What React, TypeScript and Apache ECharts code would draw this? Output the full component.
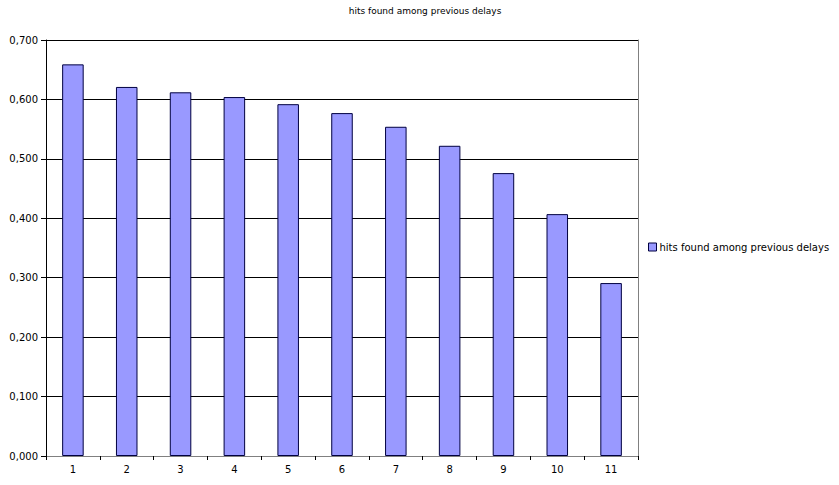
import React, { useEffect, useRef } from "react";
import * as echarts from "echarts";

const categories = ["1", "2", "3", "4", "5", "6", "7", "8", "9", "10", "11"];
const hitsValues = [0.659, 0.621, 0.612, 0.604, 0.592, 0.577, 0.554, 0.522, 0.476, 0.407, 0.291];
const seriesName = "hits found among previous delays";
const titleText = "hits found among previous delays";

export default function App() {
  const ref = useRef<HTMLDivElement>(null);
  useEffect(() => {
    const chart = echarts.init(ref.current!, null, { renderer: "svg" });
    const font = "Verdana, 'DejaVu Sans', sans-serif";
    chart.setOption({
      animation: false,
      backgroundColor: "#ffffff",
      title: {
        text: titleText,
        left: 420,
        textAlign: "center",
        top: 1,
        textStyle: { fontFamily: font, fontSize: 9, fontWeight: "normal", color: "#000" },
      },
      legend: {
        left: 643,
        top: 237,
        orient: "vertical",
        itemWidth: 8,
        itemHeight: 8,
        itemGap: 4,
        icon: "rect",
        textStyle: { fontFamily: font, fontSize: 10, color: "#000", padding: [0, 0, 0, -2] },
        data: [{ name: seriesName, itemStyle: { color: "#9999ff", borderColor: "#000040", borderWidth: 1 } }],
      },
      grid: { left: 46, right: 201, top: 40, bottom: 29 },
      xAxis: [
        {
          type: "category",
          data: categories,
          axisLine: { lineStyle: { color: "#000", width: 1 } },
          axisTick: { show: true, length: 4, inside: false, lineStyle: { color: "#000" } },
          axisLabel: { fontFamily: font, fontSize: 10, color: "#000", margin: 8 },
        },
        {
          type: "category",
          data: categories,
          position: "top",
          axisLine: { show: true, lineStyle: { color: "#808080", width: 1 } },
          axisTick: { show: false },
          axisLabel: { show: false },
        },
      ],
      yAxis: [
        {
          type: "value",
          min: 0,
          max: 0.7,
          interval: 0.1,
          axisLine: { show: true, lineStyle: { color: "#000", width: 1 } },
          axisTick: { show: true, length: 5, lineStyle: { color: "#000" } },
          splitLine: { show: true, lineStyle: { color: "#000", width: 1 } },
          axisLabel: {
            fontFamily: font,
            fontSize: 10,
            color: "#000",
            margin: 8,
            formatter: (v: number) => v.toFixed(3).replace(".", ","),
          },
        },
        {
          type: "value",
          min: 0,
          max: 0.7,
          interval: 0.1,
          position: "right",
          axisLine: { show: true, lineStyle: { color: "#808080", width: 1 } },
          axisTick: { show: false },
          splitLine: { show: false },
          axisLabel: { show: false },
        },
      ],
      series: [
        {
          name: seriesName,
          type: "bar",
          data: hitsValues,
          barCategoryGap: "60%",
          itemStyle: { color: "#9999ff", borderColor: "#000040", borderWidth: 1 },
        },
      ],
    });
    return () => chart.dispose();
  }, []);
  return <div ref={ref} style={{ width: 839, height: 485, position: "absolute", left: 0, top: 0 }} />;
}
